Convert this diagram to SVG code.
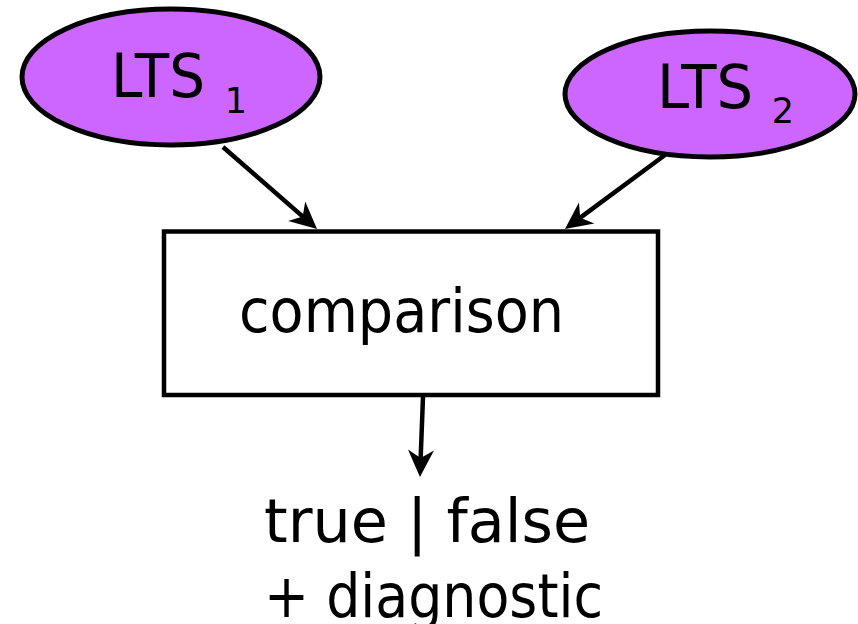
<svg xmlns="http://www.w3.org/2000/svg" width="858" height="624" viewBox="0 0 858 624">
  <style>
    .lts { fill: #CC66FF; stroke: #000; stroke-width: 5; }
    .box { fill: #fff; stroke: #000; stroke-width: 4.5; }
    .lbl { font-family: "DejaVu Sans", "Liberation Sans", sans-serif; font-size: 60px; fill: #000; }
    .sub { font-family: "DejaVu Sans", "Liberation Sans", sans-serif; font-size: 35px; fill: #000; text-anchor: middle; }
    .edge { fill: none; stroke: #000; stroke-width: 4.5; marker-end: url(#head); }
  </style>
  <defs>
    <marker id="head" markerUnits="userSpaceOnUse" viewBox="-16 -16 32 32" markerWidth="32" markerHeight="32" refX="0" refY="0" orient="auto">
      <path d="M12,0 L-15,-13 L-7,0 L-15,13 Z" fill="#000"/>
    </marker>
  </defs>

  <g id="connectors">
    <line class="edge" x1="223" y1="147" x2="308" y2="221.1"/>
    <line class="edge" x1="665" y1="155" x2="574.6" y2="221.9"/>
    <line class="edge" x1="423" y1="397" x2="420.4" y2="465"/>
  </g>

  <g id="lts1">
    <ellipse class="lts" cx="171" cy="77" rx="149" ry="68"/>
    <text class="lbl" x="111" y="97" textLength="94" lengthAdjust="spacingAndGlyphs">LTS</text>
    <text class="sub" x="236" y="113">1</text>
  </g>

  <g id="lts2">
    <ellipse class="lts" cx="710" cy="94" rx="145" ry="63"/>
    <text class="lbl" x="657" y="108" textLength="96" lengthAdjust="spacingAndGlyphs">LTS</text>
    <text class="sub" x="783" y="123">2</text>
  </g>

  <g id="comparison">
    <rect class="box" x="164" y="231.5" width="494" height="163.5"/>
    <text class="lbl" x="239" y="332" textLength="325" lengthAdjust="spacingAndGlyphs">comparison</text>
  </g>

  <g id="result">
    <text class="lbl" x="264" y="542" textLength="326" lengthAdjust="spacingAndGlyphs">true | false</text>
    <text class="lbl" x="264" y="617" textLength="339" lengthAdjust="spacingAndGlyphs">+ diagnostic</text>
  </g>
</svg>
